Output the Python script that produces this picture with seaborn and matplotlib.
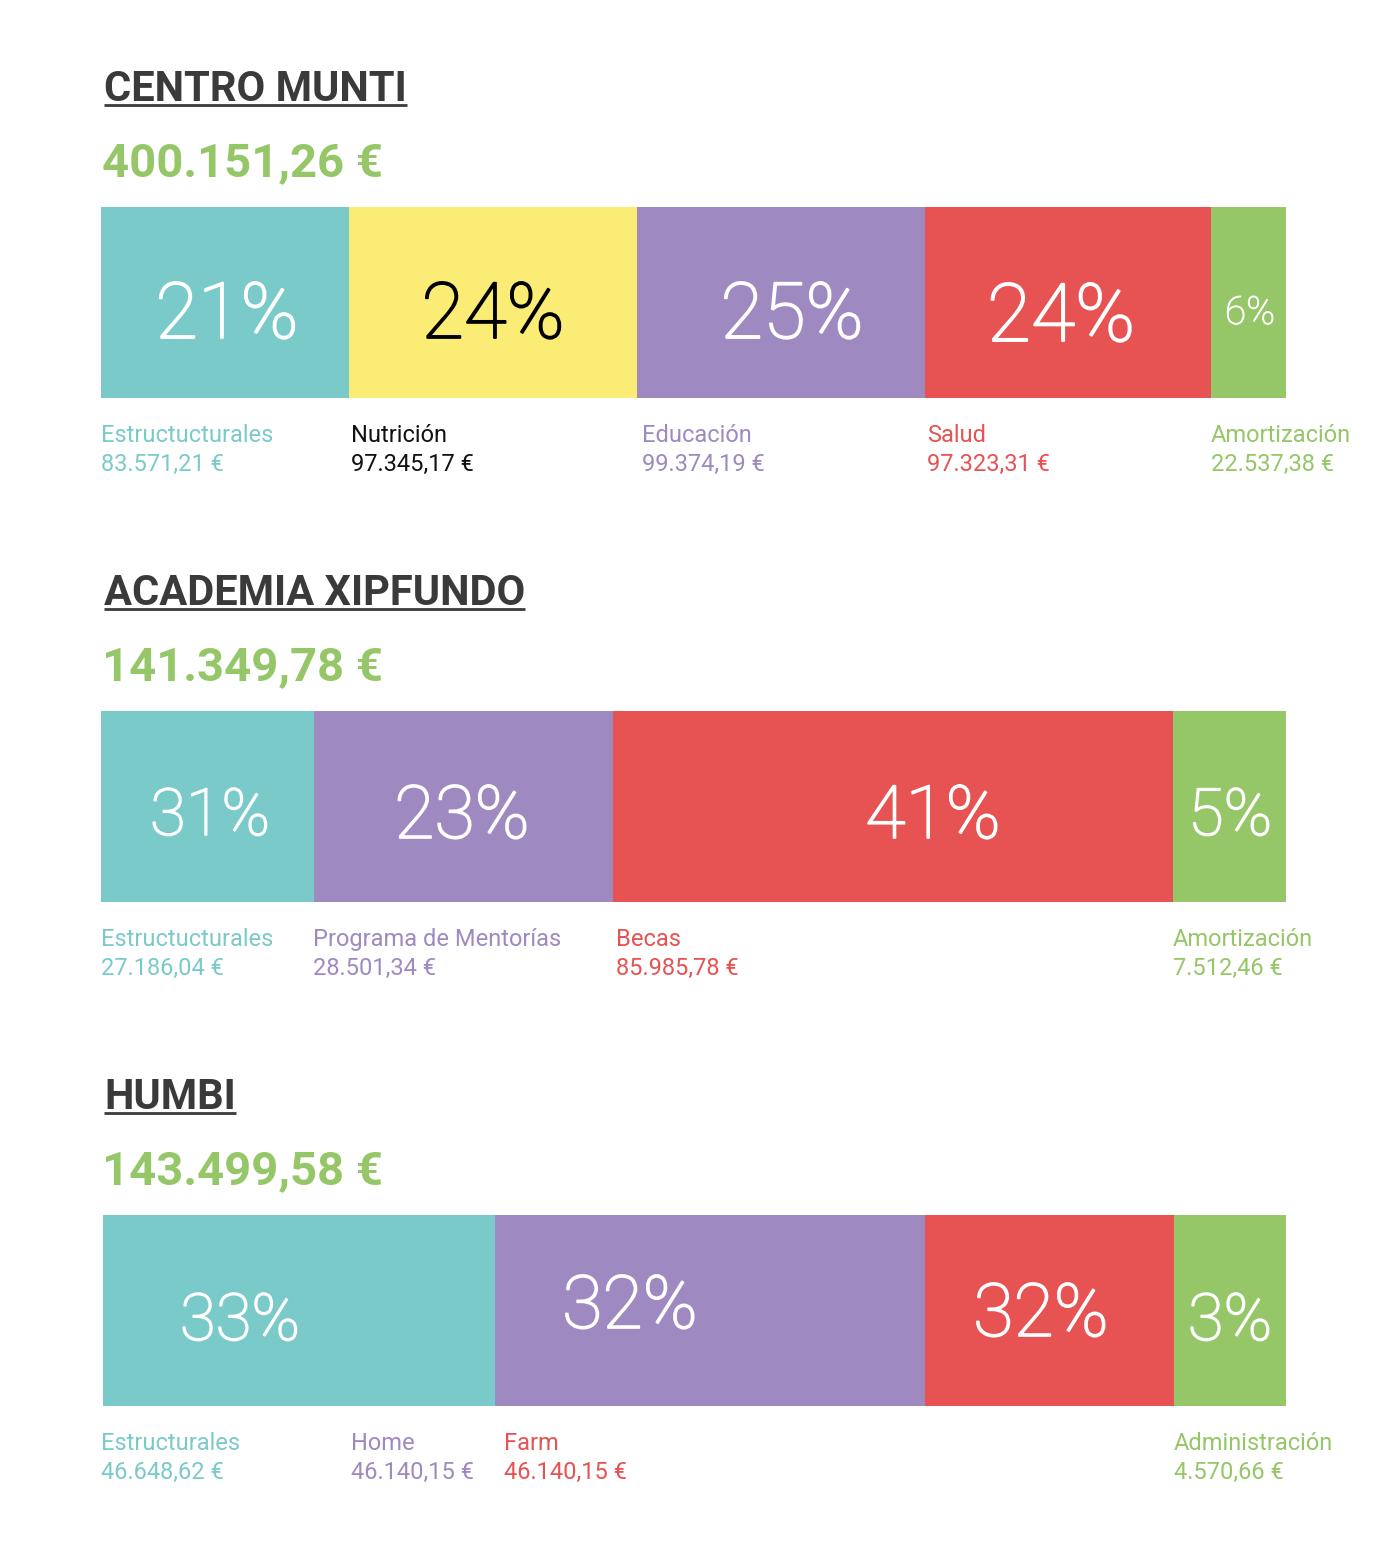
import matplotlib
matplotlib.use("Agg")
import matplotlib.pyplot as plt
import matplotlib.patheffects as pe
import seaborn as sns
import pandas as pd

# --- data -------------------------------------------------------------
centros = ["CENTRO MUNTI", "ACADEMIA XIPFUNDO", "HUMBI"]
totales = ["400.151,26 €", "141.349,78 €", "143.499,58 €"]

munti_cats = ["Estructucturales", "Nutrición", "Educación", "Salud", "Amortización"]
munti_amounts = ["83.571,21 €", "97.345,17 €", "99.374,19 €", "97.323,31 €", "22.537,38 €"]
munti_pct = ["21%", "24%", "25%", "24%", "6%"]
munti_share = [20.9, 24.3, 24.3, 24.2, 6.3]  # share of the bar as drawn

xip_cats = ["Estructucturales", "Programa de Mentorías", "Becas", "Amortización"]
xip_amounts = ["27.186,04 €", "28.501,34 €", "85.985,78 €", "7.512,46 €"]
xip_pct = ["31%", "23%", "41%", "5%"]
xip_share = [18.0, 25.2, 47.3, 9.5]

humbi_cats = ["Estructurales", "Home", "Farm", "Administración"]
humbi_amounts = ["46.648,62 €", "46.140,15 €", "46.140,15 €", "4.570,66 €"]
humbi_pct = ["33%", "32%", "32%", "3%"]
humbi_share = [33.1, 36.4, 21.0, 9.5]

# --- style ------------------------------------------------------------
TEAL, YELLOW, PURPLE, RED, GREEN = "#7BCACA", "#FBEC76", "#9E8AC1", "#E65352", "#95C667"
DARK = "#3A3A3A"

sns.set_theme(style="white")
plt.rcParams["font.family"] = ["Roboto", "DejaVu Sans"]

W, H = 1380, 1550
fig = plt.figure(figsize=(W / 100, H / 100), dpi=100)
fig.patch.set_facecolor("white")

# overlay axes in pixel coordinates for the text
ov = fig.add_axes([0, 0, 1, 1], zorder=5)
ov.set_xlim(0, W)
ov.set_ylim(H, 0)
ov.axis("off")

groups = [
    dict(cats=munti_cats, amounts=munti_amounts, pct=munti_pct, share=munti_share,
         colors=[TEAL, YELLOW, PURPLE, RED, GREEN],
         label_colors=[TEAL, "#111111", PURPLE, RED, GREEN],
         pct_colors=["white", "black", "white", "white", "white"],
         top=0, bar_left=101,
         label_x=[101, 351, 642, 927, 1211],
         pct_xy=[(227, 338), (493, 338), (792, 338), (1061, 341), (1250, 324)],
         pct_size=[56, 56, 56, 58, 28]),
    dict(cats=xip_cats, amounts=xip_amounts, pct=xip_pct, share=xip_share,
         colors=[TEAL, PURPLE, RED, GREEN],
         label_colors=[TEAL, PURPLE, RED, GREEN],
         pct_colors=["white"] * 4,
         top=504, bar_left=101,
         label_x=[101, 313, 616, 1173],
         pct_xy=[(210, 835), (462, 838), (933, 838), (1230, 835)],
         pct_size=[47, 53, 53, 47]),
    dict(cats=humbi_cats, amounts=humbi_amounts, pct=humbi_pct, share=humbi_share,
         colors=[TEAL, PURPLE, RED, GREEN],
         label_colors=[TEAL, PURPLE, RED, GREEN],
         pct_colors=["white"] * 4,
         top=1008, bar_left=103,
         label_x=[101, 351, 504, 1174],
         pct_xy=[(240, 1340), (630, 1328), (1041, 1336), (1230, 1340)],
         pct_size=[47, 53, 53, 47]),
]

fig.canvas.draw()
renderer = fig.canvas.get_renderer()

for centro, total, g in zip(centros, totales, groups):
    t0 = g["top"]

    # title with underline
    title = ov.text(104, t0 + 101, centro, fontsize=30, fontweight="bold",
                    color=DARK, ha="left", va="baseline")
    bb = title.get_window_extent(renderer=renderer)
    x0, _ = ov.transData.inverted().transform((bb.x0, bb.y0))
    x1, _ = ov.transData.inverted().transform((bb.x1, bb.y0))
    ov.plot([x0, x1], [t0 + 105, t0 + 105], color=DARK, lw=2, solid_capstyle="butt")

    # total
    ov.text(102, t0 + 176, total, fontsize=34, fontweight="bold",
            color=GREEN, ha="left", va="baseline")

    # stacked bar (drawn back to front with cumulative widths)
    bar_w = 1286 - g["bar_left"]
    ax = fig.add_axes([g["bar_left"] / W, 1 - (t0 + 398) / H, bar_w / W, 191 / H])
    df = pd.DataFrame({"cat": g["cats"], "share": g["share"]})
    df["cum"] = df["share"].cumsum()
    for i in range(len(df) - 1, -1, -1):
        sns.barplot(x=[df["cum"].iloc[i]], y=["bar"], orient="h", color=g["colors"][i],
                    saturation=1, width=1, linewidth=0, edgecolor="none", ax=ax)
    ax.set_xlim(0, df["cum"].iloc[-1])
    ax.set_ylim(0.5, -0.5)
    ax.axis("off")

    # percentages (positions absolute in pixels), light font slightly thickened
    for p, (px, py), s, c in zip(g["pct"], g["pct_xy"], g["pct_size"], g["pct_colors"]):
        ov.text(px, py, p, fontsize=s, fontweight="light", color=c,
                ha="center", va="baseline",
                path_effects=[pe.withStroke(linewidth=1.3 * s / 56, foreground=c)])

    # category labels and amounts
    for cat, amt, lx, lc in zip(g["cats"], g["amounts"], g["label_x"], g["label_colors"]):
        ov.text(lx, t0 + 442, cat, fontsize=17, color=lc, ha="left", va="baseline")
        ov.text(lx, t0 + 471, amt, fontsize=17, color=lc, ha="left", va="baseline")

fig.savefig("out.png", dpi=100, facecolor="white")
